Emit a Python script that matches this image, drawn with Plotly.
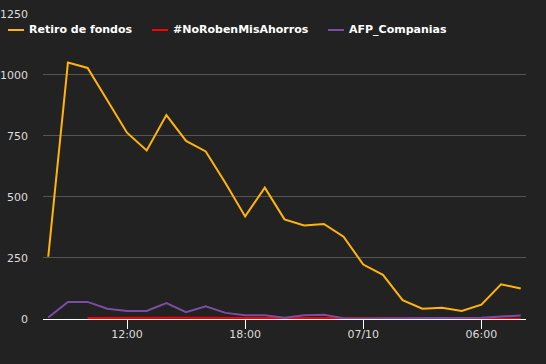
import plotly.graph_objects as go

times = [
    "2020-07-09 08:00", "2020-07-09 09:00", "2020-07-09 10:00", "2020-07-09 11:00",
    "2020-07-09 12:00", "2020-07-09 13:00", "2020-07-09 14:00", "2020-07-09 15:00",
    "2020-07-09 16:00", "2020-07-09 17:00", "2020-07-09 18:00", "2020-07-09 19:00",
    "2020-07-09 20:00", "2020-07-09 21:00", "2020-07-09 22:00", "2020-07-09 23:00",
    "2020-07-10 00:00", "2020-07-10 01:00", "2020-07-10 02:00", "2020-07-10 03:00",
    "2020-07-10 04:00", "2020-07-10 05:00", "2020-07-10 06:00", "2020-07-10 07:00",
    "2020-07-10 08:00",
]
retiro = [255, 1050, 1028, 895, 763, 690, 835, 729, 686, 557, 420, 538, 408,
          383, 389, 337, 223, 181, 77, 42, 46, 33, 59, 142, 125]
norobe = [None, None, 4, 5, 5, 5, 5, 5, 4, 4, 4, 4, 4, 4, 4, 2, 1, 1, 1, 1,
          1, 1, 1, 1, 1]
afp = [6, 70, 70, 42, 33, 33, 65, 28, 52, 25, 15, 15, 5, 15, 17, 3, 2, 2, 2,
       2, 2, 2, 5, 10, 14]

series_names = ["Retiro de fondos", "#NoRobenMisAhorros", "AFP_Companias"]
series_values = [retiro, norobe, afp]
colors = ["#FFB40A", "#FF0000", "#7D4CA3"]

tick_vals = ["2020-07-09 12:00", "2020-07-09 18:00", "2020-07-10 00:00", "2020-07-10 06:00"]
tick_text = ["12:00", "18:00", "07/10", "06:00"]
y_ticks = [0, 250, 500, 750, 1000, 1250]

W, H = 546, 364
ML, MR, MT, MB = 43, 20, 13, 45
PW, PH = W - ML - MR, H - MT - MB


def px_to_paper(x, y):
    return (x - ML) / PW, 1 - (y - MT) / PH


fig = go.Figure()
for name, vals, col in zip(series_names, series_values, colors):
    fig.add_trace(go.Scatter(x=times, y=vals, name=name, mode="lines",
                             line=dict(color=col, width=2), showlegend=False,
                             hoverinfo="skip"))

# custom legend (short line symbols + bold labels)
leg_x = [8, 152, 328]
for name, col, x0 in zip(series_names, colors, leg_x):
    sx0, sy = px_to_paper(x0, 30)
    sx1, _ = px_to_paper(x0 + 16, 30)
    tx, ty = px_to_paper(x0 + 19, 29.5)
    fig.add_shape(type="line", xref="paper", yref="paper",
                  x0=sx0, x1=sx1, y0=sy, y1=sy,
                  line=dict(color=col, width=2))
    fig.add_annotation(text=name, xref="paper", yref="paper",
                       x=tx, y=ty, xanchor="left", yanchor="middle",
                       showarrow=False,
                       font=dict(family="DejaVu Sans", size=11, color="#FFFFFF",
                                 weight="bold"))

fig.update_layout(
    width=W, height=H,
    paper_bgcolor="#222222", plot_bgcolor="#222222",
    margin=dict(l=ML, r=MR, t=MT, b=MB, autoexpand=False),
    font=dict(family="DejaVu Sans", size=11, color="#DDDDDD"),
    hovermode=False,
)
fig.update_xaxes(
    range=["2020-07-09 07:44", "2020-07-10 08:16"],
    tickmode="array", tickvals=tick_vals, ticktext=tick_text,
    showgrid=False, showline=True, linecolor="#FFFFFF", linewidth=1,
    ticks="outside", ticklen=9, tickcolor="#FFFFFF", tickwidth=1,
    ticklabelstandoff=-4,
    tickfont=dict(size=11, color="#DDDDDD"), zeroline=False, automargin=False,
)
fig.update_yaxes(
    range=[0, 1253], tickmode="array", tickvals=y_ticks,
    showgrid=True, gridcolor="#555555", gridwidth=1,
    zeroline=True, zerolinecolor="#FFFFFF", zerolinewidth=1,
    ticks="", ticklabelstandoff=14, automargin=False,
    tickfont=dict(size=11, color="#DDDDDD"),
)

fig.write_html(
    "out.html",
    config={"displayModeBar": False, "staticPlot": True},
    post_script="document.body.style.margin='0';document.body.style.background='#222222';",
)
